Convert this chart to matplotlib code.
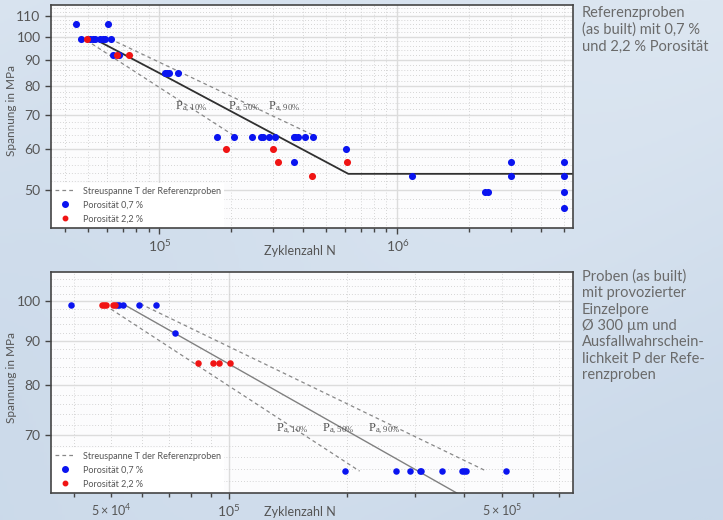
import numpy as np
import matplotlib
matplotlib.use("Agg")
from matplotlib import pyplot as plt
from matplotlib.ticker import FixedLocator, NullFormatter, LogLocator
from matplotlib.lines import Line2D

plt.rcParams['font.family'] = ['Lato', 'DejaVu Sans']
plt.rcParams['mathtext.default'] = 'regular'

# --- oben: Referenzproben ---
ref_blue_n = [44700, 60500,
              46900, 51200, 52500, 53700, 56400, 57800, 59100, 62700,
              63700, 67700,
              105700, 107400, 109900, 119500,
              175000, 206000, 244000, 267000, 272000, 288000, 306000,
              366000, 373000, 382000, 410000, 440000,
              608000, 366000,
              1150000, 3000000, 5000000,
              3000000, 5000000,
              2340000, 2410000, 5000000,
              5000000]
ref_blue_s = [106, 106,
              99, 99, 99, 99, 99, 99, 99, 99,
              92, 92,
              85, 85, 85, 85,
              63.6, 63.6, 63.6, 63.6, 63.6, 63.6, 63.6,
              63.6, 63.6, 63.6, 63.6, 63.6,
              60, 56.6,
              53.2, 53.2, 53.2,
              56.6, 56.6,
              49.5, 49.5, 49.5,
              46]
ref_red_n = [49500, 66000, 74800, 190000, 301000, 314000, 617000, 438000]
ref_red_s = [99, 92, 92, 60, 60, 56.6, 56.6, 53.1]

ref_median_n = [53300, 100000, 622000, 5500000]
ref_median_s = [99, 84.8, 53.7, 53.7]
ref_p90_n = [62100, 443000]
ref_p90_s = [99, 64.0]
ref_p10_n = [49200, 204000]
ref_p10_s = [98.5, 64.0]

# --- unten: Proben mit Einzelpore ---
pore_blue_n = [39500, 51600, 52400, 53500, 58700, 65200,
               72600,
               198000, 268000, 290000, 308000, 310000, 351000,
               395000, 399000, 404000, 512000]
pore_blue_s = [99, 99, 99, 99, 99, 99,
               92,
               63.7, 63.7, 63.7, 63.7, 63.7, 63.7,
               63.7, 63.7, 63.7, 63.7]
pore_red_n = [47200, 47800, 48400, 50600, 51200, 83200, 90900, 94300, 100800]
pore_red_s = [99, 99, 99, 99, 99, 84.8, 84.8, 84.8, 84.8]

pore_median_n = [54100, 420000]
pore_median_s = [99, 58.6]
pore_p90_n = [59300, 453000]
pore_p90_s = [99.3, 63.7]
pore_p10_n = [48200, 216000]
pore_p10_s = [98.9, 63.6]

txt_col = '#6a6a6a'
blue = '#0a14f0'
red = '#f01414'

fig = plt.figure(figsize=(7.23, 5.20), dpi=100)

# hintergrund mit leichtem verlauf
bg = fig.add_axes([0, 0, 1, 1], zorder=-5)
gy, gx = np.mgrid[0:1:200j, 0:1:200j]
grad = 0.5 + 0.25 * np.sin(gx * 5 + gy * 3) * 0.3 + 0.3 * gy
bg.imshow(grad, cmap=matplotlib.colors.LinearSegmentedColormap.from_list(
    'bg', ['#dce6f1', '#c9d8e9']), aspect='auto', extent=[0, 1, 0, 1])
bg.axis('off')


def setup_axis(ax, xlim, ylim, yticks, xmajor, xlabels):
    ax.set_xscale('log')
    ax.set_yscale('log')
    ax.set_xlim(*xlim)
    ax.set_ylim(*ylim)
    ax.set_facecolor('#fcfcfd')
    for sp in ax.spines.values():
        sp.set_color('#454545')
        sp.set_linewidth(1.2)
    ax.yaxis.set_major_locator(FixedLocator(yticks))
    ax.set_yticklabels([str(t) for t in yticks])
    ax.yaxis.set_minor_locator(FixedLocator(
        [v for v in np.arange(int(ylim[0]), ylim[1], 2) if v not in yticks]))
    ax.yaxis.set_minor_formatter(NullFormatter())
    ax.xaxis.set_major_locator(FixedLocator(xmajor))
    ax.set_xticklabels(xlabels)
    ax.xaxis.set_minor_locator(LogLocator(base=10, subs=np.arange(2, 10)))
    ax.xaxis.set_minor_formatter(NullFormatter())
    ax.tick_params(axis='both', which='major', labelsize=10, colors='#454545',
                   labelcolor='#555555', length=4, width=1)
    ax.tick_params(axis='x', which='minor', length=3, width=1, colors='#454545')
    ax.tick_params(axis='y', which='minor', length=0)
    ax.grid(True, which='major', color='#dcdcdc', lw=1.0)
    ax.grid(True, which='minor', color='#c8c8c8', lw=0.6, ls=(0, (1, 2.5)))
    ax.set_axisbelow(True)
    ax.set_xlabel('Zyklenzahl N', fontsize=9, color='#555555')
    ax.xaxis.set_label_coords(0.477, -0.075)
    ax.set_ylabel('Spannung in MPa', fontsize=8.5, color='#555555')
    ax.yaxis.set_label_coords(-0.066, 0.525)


def add_legend(ax, size_blue, size_red):
    handles = [
        Line2D([], [], color='#888888', lw=0.9, ls=(0, (3, 2.5))),
        Line2D([], [], color=blue, marker='o', ls='none', markersize=size_blue),
        Line2D([], [], color=red, marker='o', ls='none', markersize=size_red),
    ]
    labels = ['Streuspanne T der Referenzproben', 'Porosität 0,7 %', 'Porosität 2,2 %']
    leg = ax.legend(handles, labels, loc='lower left', fontsize=6.5,
                    frameon=True, facecolor='white', edgecolor='none',
                    framealpha=1, fancybox=False, borderaxespad=0.1,
                    handlelength=2.2, handletextpad=0.8, labelspacing=0.55,
                    borderpad=0.4)
    for t in leg.get_texts():
        t.set_color('#555555')


def p_labels(ax, xs, y):
    for x, p in zip(xs, ['10', '50', '90']):
        ax.text(x, y, r'$\mathregular{P_{a,' + p + r'\%}}$', fontsize=9,
                family='Liberation Serif', color='#555555', ha='left', va='bottom')


# ---------- oberes diagramm ----------
ax1 = fig.add_axes([0.0705, 0.5615, 0.722, 0.4289])
setup_axis(ax1, (35000, 5.47e6), (42, 115.5), [50, 60, 70, 80, 90, 100, 110],
           [1e5, 1e6], [r'$10^{5}$', r'$10^{6}$'])
ax1.plot(ref_p90_n, ref_p90_s, color='#888888', lw=0.9, ls=(0, (3, 2.5)), zorder=2)
ax1.plot(ref_p10_n, ref_p10_s, color='#888888', lw=0.9, ls=(0, (3, 2.5)), zorder=2)
ax1.plot(ref_median_n, ref_median_s, color='#303030', lw=1.3, zorder=2)
ax1.scatter(ref_blue_n, ref_blue_s, s=26, color=blue, zorder=3, lw=0)
ax1.scatter(ref_red_n, ref_red_s, s=26, color=red, zorder=4, lw=0)
p_labels(ax1, [116000, 194000, 286000], 70.5)
add_legend(ax1, 4, 3.2)

fig.text(0.805, 0.988, 'Referenzproben\n(as built) mit 0,7 %\nund 2,2 % Porosität',
         fontsize=10.5, color=txt_col, va='top', ha='left', linespacing=1.22)

# ---------- unteres diagramm ----------
ax2 = fig.add_axes([0.0705, 0.0519, 0.722, 0.4244])
setup_axis(ax2, (35000, 7.6e5), (60, 108), [70, 80, 90, 100],
           [1e5], [r'$10^{5}$'])
ax2.xaxis.set_minor_formatter(matplotlib.ticker.FuncFormatter(
    lambda v, pos: r'$5\times10^{%d}$' % int(round(np.log10(v / 5)))
    if abs(v / 10 ** np.floor(np.log10(v)) - 5) < 0.01 else ''))
ax2.tick_params(axis='x', which='minor', labelsize=9, labelcolor='#555555')
ax2.plot(pore_p90_n, pore_p90_s, color='#888888', lw=0.9, ls=(0, (3, 2.5)), zorder=2)
ax2.plot(pore_p10_n, pore_p10_s, color='#888888', lw=0.9, ls=(0, (3, 2.5)), zorder=2)
ax2.plot(pore_median_n, pore_median_s, color='#808080', lw=1.0, zorder=2)
ax2.scatter(pore_blue_n, pore_blue_s, s=22, color=blue, zorder=3, lw=0)
ax2.scatter(pore_red_n, pore_red_s, s=22, color=red, zorder=4, lw=0)
p_labels(ax2, [132000, 173000, 227000], 69.8)
add_legend(ax2, 4, 3.2)
ax2.xaxis.set_label_coords(0.477, -0.058)

fig.text(0.805, 0.482, 'Proben (as built)\nmit provozierter\nEinzelpore\n'
         'Ø 300 µm und\nAusfallwahrschein-\nlichkeit P der Refe-\nrenzproben',
         fontsize=10.5, color=txt_col, va='top', ha='left', linespacing=1.22)

fig.savefig('out.png', dpi=100)
